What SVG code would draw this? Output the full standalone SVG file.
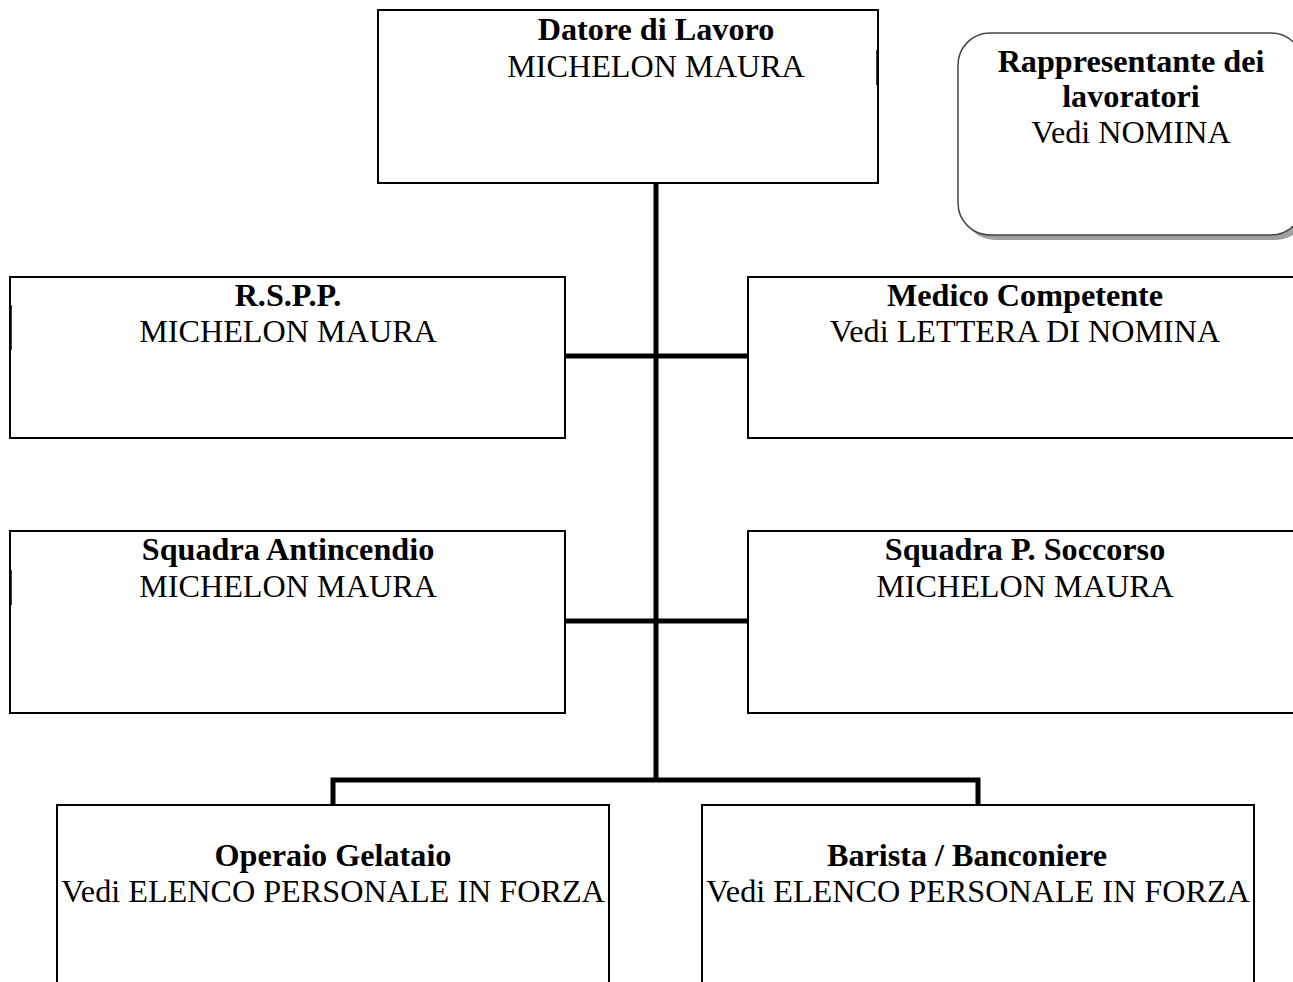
<svg xmlns="http://www.w3.org/2000/svg" width="1293" height="982" viewBox="0 0 1293 982">
<style>
.box{fill:#fff;stroke:#000;stroke-width:2}
.t{font-family:"Liberation Serif","Times New Roman",serif;font-size:32.2px;text-anchor:middle;fill:#000}
.b{font-weight:bold}
.conn{fill:none;stroke:#000;stroke-width:5;stroke-linejoin:miter}
.mark{stroke:#000;stroke-width:1.5}
</style>
<rect width="1293" height="982" fill="#fff"/>
<g id="connectors">
<path class="conn" d="M656,183 V780"/>
<path class="conn" d="M565,356 H748"/>
<path class="conn" d="M565,621 H748"/>
<path class="conn" d="M333,805 V780 H978 V805"/>
</g>
<g id="datore">
<rect class="box" x="378" y="10" width="500" height="173"/>
<line class="mark" x1="877" y1="50" x2="877" y2="85"/>
<text class="t b" x="656" y="40">Datore di Lavoro</text>
<text class="t" x="656" y="77">MICHELON MAURA</text>
</g>
<g id="rappresentante">
<rect x="963" y="38" width="345" height="202" rx="32" fill="#a0a0a0"/>
<rect x="958" y="33" width="345" height="202" rx="32" fill="#fff" stroke="#444" stroke-width="1.5"/>
<text class="t b" x="1131" y="72">Rappresentante dei</text>
<text class="t b" x="1131" y="107">lavoratori</text>
<text class="t" x="1131" y="143">Vedi NOMINA</text>
</g>
<g id="rspp">
<rect class="box" x="10" y="277" width="555" height="161"/>
<line class="mark" x1="11" y1="305" x2="11" y2="350"/>
<text class="t b" x="288" y="306">R.S.P.P.</text>
<text class="t" x="288" y="342">MICHELON MAURA</text>
</g>
<g id="medico">
<rect class="box" x="748" y="277" width="553" height="161"/>
<text class="t b" x="1025" y="306">Medico Competente</text>
<text class="t" x="1025" y="342">Vedi LETTERA DI NOMINA</text>
</g>
<g id="antincendio">
<rect class="box" x="10" y="531" width="555" height="182"/>
<line class="mark" x1="11" y1="570" x2="11" y2="605"/>
<text class="t b" x="288" y="560">Squadra Antincendio</text>
<text class="t" x="288" y="597">MICHELON MAURA</text>
</g>
<g id="soccorso">
<rect class="box" x="748" y="531" width="553" height="182"/>
<text class="t b" x="1025" y="560">Squadra P. Soccorso</text>
<text class="t" x="1025" y="597">MICHELON MAURA</text>
</g>
<g id="operaio">
<rect class="box" x="57" y="805" width="552" height="190"/>
<text class="t b" x="333" y="866">Operaio Gelataio</text>
<text class="t" x="333" y="902">Vedi ELENCO PERSONALE IN FORZA</text>
</g>
<g id="barista">
<rect class="box" x="702" y="805" width="552" height="190"/>
<text class="t b" x="967" y="866">Barista / Banconiere</text>
<text class="t" x="978" y="902">Vedi ELENCO PERSONALE IN FORZA</text>
</g>
</svg>
